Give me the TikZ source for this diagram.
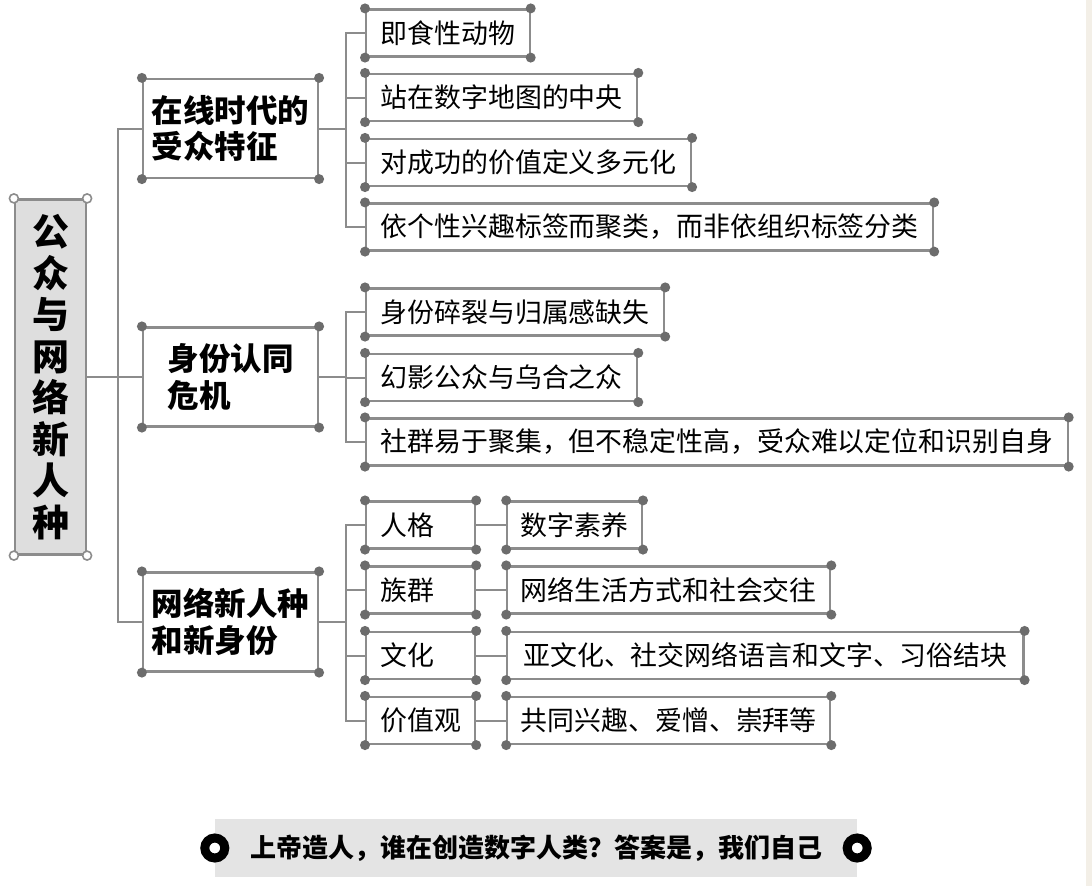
\documentclass[tikz,border=0pt]{standalone}
\usepackage{fontspec}
\setmainfont{Noto Sans CJK SC}
\usepackage{tikz}
\usetikzlibrary{positioning,calc}
\definecolor{framegray}{RGB}{140,140,140}
\definecolor{dotgray}{RGB}{108,108,108}
\definecolor{rootfill}{RGB}{222,222,222}
\definecolor{mottofill}{RGB}{228,228,228}
\definecolor{edgebeige}{RGB}{243,239,231}
\newcommand{\tightlines}{\lineskiplimit=-60pt\relax}
\tikzset{
  root-node/.style={draw=framegray, line width=2.2pt, fill=rootfill,
    minimum width=71pt, minimum height=355pt, align=center, inner sep=0pt,
    font=\fontsize{37}{41.5}\selectfont\bfseries\tightlines},
  topic-node/.style={draw=framegray, line width=2.2pt, fill=white,
    minimum width=175pt, minimum height=99pt, align=left, inner sep=0pt,
    font=\fontsize{31.5}{36.5}\selectfont\bfseries\tightlines},
  leaf-node/.style={draw=framegray, line width=2.2pt, fill=white, anchor=west,
    minimum height=47pt, inner xsep=14.5pt, inner ysep=0pt,
    font=\fontsize{26.9}{30}\selectfont},
  short-node/.style={leaf-node, text width=80pt, align=left},
  link-line/.style={draw=framegray, line width=2pt},
  corner-dot/.style={fill=dotgray},
  hollow-dot/.style={fill=white, draw=framegray, line width=1.6pt},
  motto-node/.style={fill=mottofill, minimum width=642pt, minimum height=58pt,
    inner sep=0pt, font=\fontsize{26}{30}\selectfont\bfseries},
  ring-node/.style={circle, draw=black, fill=white, line width=9pt,
    minimum size=20pt, inner sep=0pt}
}
\begin{document}
\begin{tikzpicture}[x=1pt, y=-1pt]
\useasboundingbox (0,0) rectangle (1092,886);
\fill[white] (0,0) rectangle (1092,886);
\fill[edgebeige] (1086,0) rectangle (1092,886);

% Root
\node[root-node] (root) at (50.5,377) {公\\众\\与\\网\\络\\新\\人\\种};

% Three topics
\node[topic-node] (onl) at (230.5,128.5) {在线时代的\\受众特征};
\node[topic-node] (idc) at (230.5,377) {身份认同\\危机};
\node[topic-node] (net) at (230.5,622) {网络新人种\\和新身份};

% Leaves of each topic
\node[leaf-node] (onl1) at (365,33) {即食性动物};
\node[leaf-node] (onl2) at (365,97.5) {站在数字地图的中央};
\node[leaf-node] (onl3) at (365,162.5) {对成功的价值定义多元化};
\node[leaf-node] (onl4) at (365,227) {依个性兴趣标签而聚类，而非依组织标签分类};

\node[leaf-node] (idc1) at (365,312) {身份碎裂与归属感缺失};
\node[leaf-node] (idc2) at (365,377.5) {幻影公众与乌合之众};
\node[leaf-node] (idc3) at (365,442) {社群易于聚集，但不稳定性高，受众难以定位和识别自身};

\node[short-node] (net1) at (365,525) {人格};
\node[short-node] (net2) at (365,590) {族群};
\node[short-node] (net3) at (365,655.5) {文化};
\node[short-node] (net4) at (365,720.5) {价值观};

\node[leaf-node, inner xsep=13.5pt, right=30pt of net1.east, anchor=west] (val1) {数字素养};
\node[leaf-node, inner xsep=13.5pt, right=30pt of net2.east, anchor=west] (val2) {网络生活方式和社会交往};
\node[leaf-node, inner xsep=16pt, right=30pt of net3.east, anchor=west] (val3) {亚文化、社交网络语言和文字、习俗结块};
\node[leaf-node, inner xsep=13.5pt, right=30pt of net4.east, anchor=west] (val4) {共同兴趣、爱憎、崇拜等};

% Trunk
\coordinate (trunk) at ($(root.east)+(31,0)$);
\draw[link-line] (root.east) -- (trunk);
\draw[link-line] (onl.west) -| (trunk) |- (net.west);
\draw[link-line] (trunk) -- (idc.west);

% Brackets
\coordinate (onlbr) at ($(onl.east)+(27,0)$);
\coordinate (idcbr) at ($(idc.east)+(27,0)$);
\coordinate (netbr) at ($(net.east)+(27,0)$);
\draw[link-line] (onl.east) -- (onlbr);
\draw[link-line] (idc.east) -- (idcbr);
\draw[link-line] (net.east) -- (netbr);
\draw[link-line] (onl1.west) -| (onlbr) |- (onl4.west);
\draw[link-line] (onlbr |- onl2.west) -- (onl2.west);
\draw[link-line] (onlbr |- onl3.west) -- (onl3.west);
\draw[link-line] (idc1.west) -| (idcbr) |- (idc3.west);
\draw[link-line] (idcbr |- idc2.west) -- (idc2.west);
\draw[link-line] (net1.west) -| (netbr) |- (net4.west);
\draw[link-line] (netbr |- net2.west) -- (net2.west);
\draw[link-line] (netbr |- net3.west) -- (net3.west);
\foreach \i in {1,...,4}
  \draw[link-line] (net\i.east) -- (val\i.west);

% Corner dots
\foreach \n in {onl,idc,net,onl1,onl2,onl3,onl4,idc1,idc2,idc3,net1,net2,net3,net4,val1,val2,val3,val4}
  \foreach \c in {north west,north east,south west,south east}
    \fill[corner-dot] (\n.\c) circle (5pt);
\foreach \c in {north west,north east,south west,south east}
  \filldraw[hollow-dot] (root.\c) circle (4.5pt);

% Motto
\node[motto-node] (motto) at (536,848) {上帝造人，谁在创造数字人类？答案是，我们自己};
\node[ring-node] (ringl) at (motto.west) {};
\node[ring-node] (ringr) at (motto.east) {};
\end{tikzpicture}
\end{document}
